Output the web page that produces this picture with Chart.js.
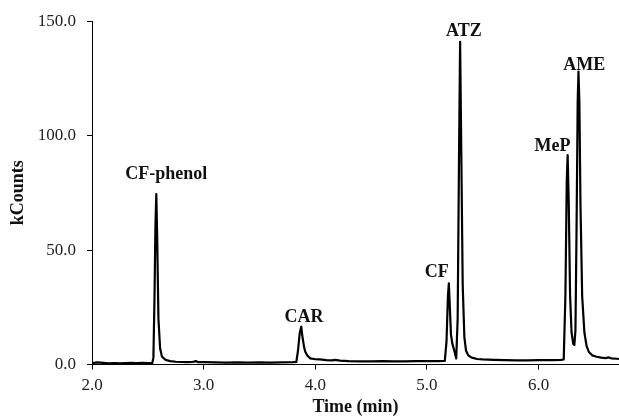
<!DOCTYPE html>
<html>
<head>
<meta charset="utf-8">
<script src="https://cdn.jsdelivr.net/npm/chart.js@4"></script>
<style>
html,body{margin:0;padding:0;background:#fff;}
#wrap{width:619px;height:420px;}
</style>
</head>
<body>
<div id="wrap"><canvas id="c" width="619" height="420"></canvas></div>
<script>
// Retention time (min)
const times = [
 2.00,2.05,2.10,2.15,2.20,2.25,2.30,2.35,2.40,2.45,2.50,2.54,
 2.55,2.56,2.568,2.576,2.584,2.595,2.61,2.627,2.66,2.70,2.75,2.80,2.85,2.90,2.93,2.95,
 3.00,3.10,3.20,3.30,3.40,3.50,3.60,3.70,3.80,3.83,
 3.845,3.86,3.874,3.885,3.90,3.91,3.93,3.955,4.00,4.04,4.10,4.15,4.18,4.22,
 4.30,4.40,4.50,4.60,4.70,4.80,4.90,5.00,5.10,5.16,
 5.175,5.188,5.196,5.205,5.215,5.228,5.245,5.262,
 5.275,5.287,5.297,5.307,5.32,5.335,5.35,5.37,5.40,5.45,5.50,
 5.60,5.70,5.80,5.90,6.00,6.10,6.20,6.225,
 6.24,6.252,6.26,6.27,6.282,6.295,6.31,6.32,
 6.33,6.34,6.35,6.357,6.365,6.375,6.39,6.41,6.43,6.45,6.48,6.52,6.56,6.60,6.63,6.65,6.70,6.72
];
// Signal (kCounts)
const counts = [
 0.6,0.9,0.7,0.5,0.6,0.5,0.6,0.7,0.6,0.7,0.6,0.7,
 3,30,60,74.5,55,20,7,3.4,2.0,1.5,1.2,1.1,1.0,1.1,1.5,1.0,
 1.0,0.9,0.8,0.9,0.8,0.9,0.8,0.9,1.0,1.1,
 6,13.5,16.5,12,7.5,5.6,3.8,2.7,2.3,2.2,1.9,1.8,2.0,1.7,
 1.5,1.4,1.4,1.5,1.4,1.4,1.5,1.5,1.5,1.6,
 10,30,35.5,25,13,9,6,2.6,
 20,90,141,95,35,12,6,4,3,2.4,2.2,
 2.0,1.9,1.8,1.8,1.9,1.9,2.0,2.2,
 30,80,91.5,70,30,14,9,8.5,
 15,60,115,128,115,70,30,14,8,5.5,4,3.4,3.0,2.8,3.1,2.7,2.5,2.4
];
// Peak annotations
const peakNames  = ["CF-phenol","CAR","CF","ATZ","MeP","AME"];
const labelTimes = [2.665,3.899,5.087,5.331,6.125,6.409];
const labelCounts= [82.9,20.8,40.4,145.6,95.2,130.8];
// Axis ticks
const xTicks = [2,3,4,5,6];
const yTicks = [0,50,100,150];

const points = times.map((t,i)=>({x:t,y:counts[i]}));
const FONT = "'Liberation Serif','Times New Roman',serif";

const peakLabelPlugin = {
  id:'peakLabels',
  afterDatasetsDraw(chart){
    const {ctx, scales:{x,y}} = chart;
    ctx.save();
    ctx.font = "bold 18px " + FONT;
    ctx.fillStyle = "#111";
    ctx.textAlign = "center";
    ctx.textBaseline = "middle";
    peakNames.forEach((n,i)=>{
      ctx.fillText(n, x.getPixelForValue(labelTimes[i]), y.getPixelForValue(labelCounts[i]));
    });
    ctx.restore();
  }
};

new Chart(document.getElementById('c'), {
  type:'line',
  data:{datasets:[{data:points, borderColor:'#000', borderWidth:2.2, pointRadius:0, tension:0, fill:false, borderJoinStyle:'round'}]},
  options:{
    responsive:false,
    animation:false,
    devicePixelRatio:1,
    layout:{padding:{top:20,right:0,left:0,bottom:0}},
    plugins:{legend:{display:false},tooltip:{enabled:false}},
    scales:{
      x:{
        type:'linear', min:2, max:6.72,
        afterBuildTicks(s){ s.ticks = xTicks.map(v=>({value:v})); },
        afterFit(s){ s.height = 55.5; },
        ticks:{font:{family:FONT,size:17}, color:'#222', padding:6, maxRotation:0,
               callback:v=>Number(v).toFixed(1)},
        grid:{display:true, drawOnChartArea:false, drawTicks:true, tickLength:5, color:'#000', lineWidth:1},
        border:{display:true, color:'#000', width:1},
        title:{display:true, text:'Time (min)', font:{family:FONT,size:18,weight:'bold'}, color:'#111', padding:{top:0,bottom:2}}
      },
      y:{
        type:'linear', min:0, max:150,
        afterBuildTicks(s){ s.ticks = yTicks.map(v=>({value:v})); },
        afterFit(s){ s.width = 92; },
        ticks:{font:{family:FONT,size:17}, color:'#222', padding:11,
               callback:v=>Number(v).toFixed(1)},
        grid:{display:true, drawOnChartArea:false, drawTicks:true, tickLength:5, color:'#000', lineWidth:1},
        border:{display:true, color:'#000', width:1},
        title:{display:true, text:'kCounts', font:{family:FONT,size:18,weight:'bold'}, color:'#111', padding:{top:8,bottom:0}}
      }
    }
  },
  plugins:[peakLabelPlugin]
});
</script>
</body>
</html>
